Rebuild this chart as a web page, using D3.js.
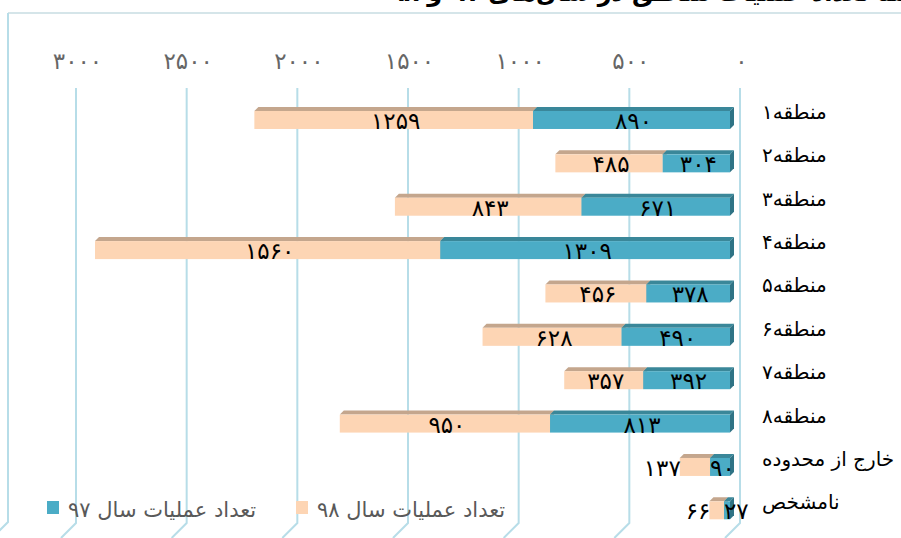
<!DOCTYPE html>
<html>
<head>
<meta charset="utf-8">
<script src="https://cdn.jsdelivr.net/npm/d3@7"></script>
<style>
  body { margin: 0; background: #fff; }
  svg { display: block; font-family: "DejaVu Sans", sans-serif; }
</style>
</head>
<body>
<svg width="901" height="538"></svg>
<script>
// data
let regions = ['منطقه۱', 'منطقه۲', 'منطقه۳', 'منطقه۴', 'منطقه۵', 'منطقه۶', 'منطقه۷', 'منطقه۸', 'خارج از محدوده', 'نامشخص']
let ops97 = [890, 304, 671, 1309, 378, 490, 392, 813, 90, 27]
let ops98 = [1259, 485, 843, 1560, 456, 628, 357, 950, 137, 66]
let seriesNames = ['تعداد عملیات سال ۹۷', 'تعداد عملیات سال ۹۸']
let xTicks = [0, 500, 1000, 1500, 2000, 2500, 3000]
let titleText = 'مقایسه تعداد عملیات مناطق در سال‌های ۹۷ و ۹۸'

let width = 901
let height = 538
let depth = 4        // 3d offset of bar tops
let wallShift = 10   // gridlines sit on the back wall

let colors = { s97: '#4bacc6', s98: '#fdd5b4' }
let tops = { s97: '#3a8799', s98: '#c4a68d' }
let sides = { s97: '#2f7385', s98: '#c4a68d' }

let fa = (n) => String(n).replace(/\d/g, (d) => '۰۱۲۳۴۵۶۷۸۹'[d])

let svg = d3.select('svg')

let table = regions.map((r, i) => ({ region: r, s97: ops97[i], s98: ops98[i] }))
let stacked = d3.stack().keys(['s97', 's98'])(table)

let xScale = d3.scaleLinear().domain([0, 3000]).range([730, 66])
let yScale = d3.scaleBand().domain(regions).range([98.4, 531.9]).paddingInner(0.585).paddingOuter(0.29)

// title (mostly above the visible area, as in the original)
svg.append('text')
   .attr('x', 678).attr('y', 1)
   .attr('text-anchor', 'middle')
   .attr('font-size', 24).attr('font-weight', 'bold')
   .attr('fill', '#000')
   .text(titleText)

// plot frame
svg.append('line').attr('x1', 8).attr('x2', width).attr('y1', 13).attr('y2', 13)
   .attr('stroke', '#c7dce2').attr('stroke-width', 1.5)
svg.append('path').attr('d', 'M8,13 V522 L-8,538')
   .attr('fill', 'none').attr('stroke', '#b7dde8').attr('stroke-width', 2)

// back wall gridlines with slanted floor ends
svg.append('g').selectAll('path')
   .data(xTicks)
   .enter()
   .append('path')
   .attr('d', (t) => {
     let gx = xScale(t) + wallShift
     return 'M' + gx + ',88 V523 L' + (gx - 15) + ',538'
   })
   .attr('fill', 'none')
   .attr('stroke', '#b7dde8')
   .attr('stroke-width', 2)

// tick labels
let xAxis = d3.axisTop(xScale).tickValues(xTicks).tickFormat(fa).tickSize(0).tickPadding(0)
let axisG = svg.append('g')
   .attr('transform', 'translate(' + (wallShift + 1) + ', 69)')
   .call(xAxis)
axisG.select('.domain').remove()
axisG.selectAll('text')
   .attr('font-family', '"DejaVu Sans", sans-serif')
   .attr('font-size', 23)
   .attr('letter-spacing', 6)
   .attr('fill', '#666')

// bars: 98 first so 97 sits on top of its side face
let barG = svg.append('g')
let order = [stacked[1], stacked[0]]
order.forEach((s) => {
  let key = s.key
  let g = barG.append('g')
  let seg = g.selectAll('g').data(s).enter().append('g')
  // top face
  seg.append('path')
     .attr('d', (d) => {
       let x0 = xScale(d[1]), x1 = xScale(d[0]), y0 = yScale(d.data.region)
       return 'M' + x0 + ',' + y0 + ' L' + (x0 + depth) + ',' + (y0 - depth) +
              ' L' + (x1 + depth) + ',' + (y0 - depth) + ' L' + x1 + ',' + y0 + 'Z'
     })
     .attr('fill', tops[key])
  // right side face
  seg.append('path')
     .attr('d', (d) => {
       let x1 = xScale(d[0]), y0 = yScale(d.data.region), y1 = y0 + yScale.bandwidth()
       return 'M' + x1 + ',' + y0 + ' L' + (x1 + depth) + ',' + (y0 - depth) +
              ' L' + (x1 + depth) + ',' + (y1 - depth) + ' L' + x1 + ',' + y1 + 'Z'
     })
     .attr('fill', sides[key])
  // front face
  seg.append('rect')
     .attr('x', (d) => xScale(d[1]))
     .attr('y', (d) => yScale(d.data.region))
     .attr('width', (d) => xScale(d[0]) - xScale(d[1]))
     .attr('height', yScale.bandwidth())
     .attr('fill', colors[key])
})

// value labels
stacked.forEach((s) => {
  let key = s.key
  svg.append('g').selectAll('text')
     .data(s)
     .enter()
     .append('text')
     .attr('font-size', 23)
     .attr('letter-spacing', 4)
     .attr('fill', '#000')
     .attr('y', (d) => yScale(d.data.region) + yScale.bandwidth() / 2 + 1)
     .attr('dominant-baseline', 'central')
     .text((d) => fa(d.data[key]))
     .each(function (d) {
       let el = d3.select(this)
       let w = this.getComputedTextLength()
       let left = xScale(d[1]), right = xScale(d[0])
       if (w + 2 < right - left) {
         el.attr('x', (left + right) / 2 + 2).attr('text-anchor', 'middle')
       } else if (key === 's97') {
         el.attr('x', left).attr('text-anchor', 'start')
       } else {
         el.attr('x', left + 1).attr('text-anchor', 'end')
       }
     })
})

// category labels
svg.append('g').selectAll('text')
   .data(regions)
   .enter()
   .append('text')
   .attr('x', 762)
   .attr('y', (r) => yScale(r) + 8)
   .attr('font-size', 20)
   .attr('fill', '#000')
   .text((r) => r)

// legend
let legendX = [47, 296]
let legend = svg.append('g').selectAll('g')
   .data(['s97', 's98'])
   .enter()
   .append('g')
   .attr('transform', (k, i) => 'translate(' + legendX[i] + ', 501)')
legend.append('rect')
   .attr('width', 12).attr('height', 13)
   .attr('fill', (k) => colors[k])
legend.append('text')
   .attr('x', 21).attr('y', 16)
   .attr('font-size', 21)
   .attr('fill', '#595959')
   .text((k, i) => seriesNames[i])
</script>
</body>
</html>
